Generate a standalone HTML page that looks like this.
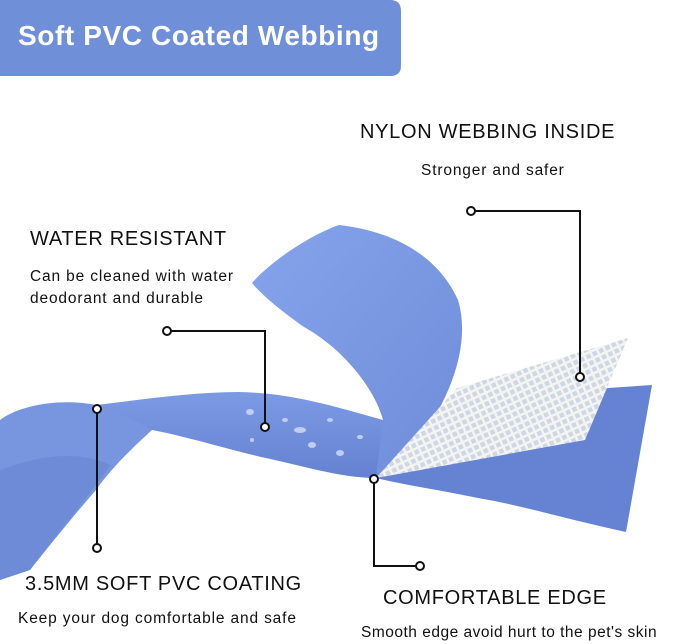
<!DOCTYPE html>
<html><head><style>
html,body{margin:0;padding:0;background:#fff;}
body{width:679px;height:644px;position:relative;overflow:hidden;font-family:"Liberation Sans",sans-serif;}
.t{position:absolute;color:#111;white-space:nowrap;}
.h{font-size:20px;letter-spacing:0.7px;}
.s{font-size:15.5px;letter-spacing:0.85px;}
</style></head><body>
<svg width="679" height="644" style="position:absolute;left:0;top:0">
<defs>
<linearGradient id="g1" x1="0" y1="0" x2="1" y2="1"><stop offset="0" stop-color="#86a4ec"/><stop offset="1" stop-color="#6e8cd8"/></linearGradient>
<linearGradient id="g2" x1="0" y1="0" x2="0" y2="1"><stop offset="0" stop-color="#7c9ae4"/><stop offset="1" stop-color="#6482d0"/></linearGradient>
<pattern id="mesh" width="7" height="7" patternUnits="userSpaceOnUse" patternTransform="rotate(-25)">
<rect width="7" height="7" fill="#cfd6e6"/><rect width="7" height="2.5" fill="#f4f4f0"/><rect width="2.5" height="7" fill="#f4f4f0"/></pattern>
</defs>
<path d="M0,0 H390 Q401,0 401,11 V66 Q401,76 390,76 H0 Z" fill="#6f8fd9"/>
<path d="M0,420 C20,405 60,398 96,405 C120,410 140,420 152,430 C130,450 110,470 96,490 C70,520 50,545 30,570 L0,580 Z" fill="#7896df"/>
<path d="M0,470 C40,455 80,450 110,465 C90,495 60,530 30,570 L0,580 Z" fill="#6684d0" opacity="0.6"/>
<path d="M96,405 C140,400 190,392 239,392 C290,393 330,405 383,420 L395,440 L376,478 C340,478 300,465 261,457 C220,447 180,435 152,430 C130,418 110,408 96,405 Z" fill="url(#g2)"/>
<path d="M383,420 C375,390 345,350 304,327 C280,310 262,295 252,283 C270,262 310,235 339,225 C400,232 440,260 458,300 C470,340 455,390 420,440 L376,478 Z" fill="url(#g1)"/>
<path d="M376,478 L460,398 L652,385 L626,532 C570,520 520,505 478,498 C440,490 400,484 376,478 Z" fill="#6583d2"/>
<path d="M376,478 L457,388 L628,338 L585,440 Z" fill="url(#mesh)"/>
<g fill="#c8d6f6" opacity="0.9">
<ellipse cx="250" cy="412" rx="4" ry="3"/><ellipse cx="300" cy="430" rx="6" ry="3"/><ellipse cx="285" cy="420" rx="3" ry="2"/><ellipse cx="312" cy="445" rx="4" ry="3"/><ellipse cx="340" cy="453" rx="4" ry="3"/><ellipse cx="330" cy="420" rx="3" ry="2"/><ellipse cx="252" cy="440" rx="2" ry="2"/><ellipse cx="360" cy="437" rx="3" ry="2"/>
</g>
<g stroke="#111" stroke-width="2" fill="none">
<polyline points="471,211 580,211 580,377"/>
<polyline points="167,331 265,331 265,427"/>
<polyline points="97,409 97,548"/>
<polyline points="374,479 374,566 420,566"/>
</g>
<g stroke="#111" stroke-width="2" fill="#fff">
<circle cx="471" cy="211" r="4"/><circle cx="580" cy="377" r="4"/>
<circle cx="167" cy="331" r="4"/><circle cx="265" cy="427" r="4"/>
<circle cx="97" cy="409" r="4"/><circle cx="97" cy="548" r="4"/>
<circle cx="374" cy="479" r="4"/><circle cx="420" cy="566" r="4"/>
</g>
</svg>
<div class="t" style="left:18px;top:20px;color:#fff;font-weight:bold;font-size:28px;letter-spacing:0.6px;">Soft PVC Coated Webbing</div>
<div class="t h" style="left:360px;top:121px;">NYLON WEBBING INSIDE</div>
<div class="t s" style="left:421px;top:162px;">Stronger and safer</div>
<div class="t h" style="left:30px;top:228px;">WATER RESISTANT</div>
<div class="t s" style="left:30px;top:268px;">Can be cleaned with water</div>
<div class="t s" style="left:30px;top:290px;">deodorant and durable</div>
<div class="t h" style="left:25px;top:573px;">3.5MM SOFT PVC COATING</div>
<div class="t s" style="left:18px;top:610px;">Keep your dog comfortable and safe</div>
<div class="t h" style="left:383px;top:587px;">COMFORTABLE EDGE</div>
<div class="t s" style="left:361px;top:624px;letter-spacing:0.5px;">Smooth edge avoid hurt to the pet's skin</div>
</body></html>
